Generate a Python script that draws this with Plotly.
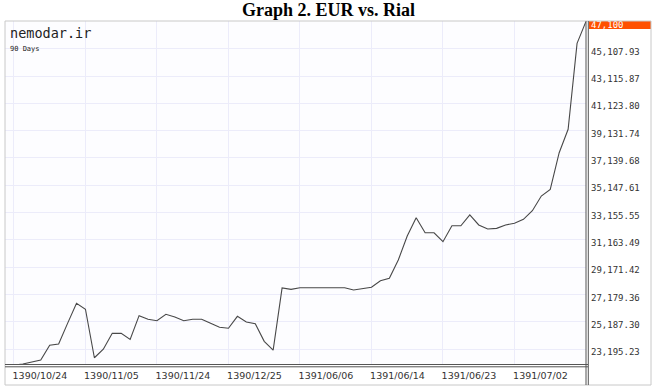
import plotly.graph_objects as go

# ---- data ----
rate_values = [22031, 22031, 22100, 22270, 22400, 23470, 23560, 25070, 26530, 26100,
               22560, 23180, 24340, 24340, 23900, 25630, 25370, 25260, 25730, 25530,
               25260, 25370, 25370, 25070, 24780, 24710, 25580, 25170, 25040, 23760,
               23120, 27650, 27550, 27670, 27670, 27670, 27670, 27670, 27670, 27500,
               27580, 27700, 28180, 28360, 29690, 31440, 32780, 31680, 31680, 31030,
               32190, 32190, 32980, 32250, 31950, 32000, 32250, 32370, 32660, 33290,
               34360, 34840, 37520, 39230, 45500, 47100]
day_index = list(range(len(rate_values)))

x_tick_idx = [1, 9, 17, 25, 33, 41, 49, 57]
x_tick_labels = ["1390/10/24", "1390/11/05", "1390/11/24", "1390/12/25",
                 "1391/06/06", "1391/06/14", "1391/06/23", "1391/07/02"]

y_tick_vals = [23195.23, 25187.30, 27179.36, 29171.42, 31163.49, 33155.55,
               35147.61, 37139.68, 39131.74, 41123.80, 43115.87, 45107.93, 47100]
y_tick_labels = ["23,195.23", "25,187.30", "27,179.36", "29,171.42", "31,163.49",
                 "33,155.55", "35,147.61", "37,139.68", "39,131.74", "41,123.80",
                 "43,115.87", "45,107.93", "47,100"]
y_min, y_max = 22031, 47100

W, H = 657, 388
def px(x):
    return x / W
def py(y):
    return 1 - y / H

ticktext_y = [f'<span style="color:white">{t}</span>' if i == len(y_tick_labels) - 1 else t
              for i, t in enumerate(y_tick_labels)]

fig = go.Figure()
fig.add_trace(go.Scatter(x=day_index, y=rate_values, mode="lines",
                         line=dict(color="#484848", width=1.1),
                         hoverinfo="skip", showlegend=False))

grid_c = "#ECECFA"
fig.update_layout(
    template="none",
    width=W, height=H,
    margin=dict(l=0, r=0, t=0, b=0, pad=0, autoexpand=False),
    paper_bgcolor="white",
    plot_bgcolor="#FDFDFF",
    title=dict(text="<b>Graph 2. EUR vs. Rial</b>", x=0.5, xanchor="center",
               y=py(10), yanchor="middle", yref="container",
               font=dict(family="Liberation Serif", size=18, color="black")),
    xaxis=dict(domain=[px(5), px(586)], range=[0, 65], tickmode="array",
               tickvals=x_tick_idx, ticktext=x_tick_labels, showgrid=True,
               gridcolor=grid_c, gridwidth=1, zeroline=False, showline=False,
               automargin=False,
               ticks="", ticklabelshift=26, ticklabelstandoff=3,
               tickfont=dict(family="DejaVu Sans", size=9.5, color="#333")),
    yaxis=dict(domain=[py(365), py(21.4)], range=[y_min, y_max], side="right",
               tickmode="array", tickvals=y_tick_vals, ticktext=ticktext_y,
               showgrid=True, gridcolor=grid_c, gridwidth=1, zeroline=False,
               automargin=False,
               showline=False, ticks="", ticklabelstandoff=4, ticklabelshift=3,
               tickfont=dict(family="DejaVu Sans Mono", size=9, color="#333")),
    shapes=[
        # outer frame
        dict(type="rect", xref="paper", yref="paper", x0=px(5), x1=px(651),
             y0=py(385), y1=py(21), line=dict(color="#C8C8C8", width=1),
             fillcolor="rgba(0,0,0,0)", layer="above"),
        # orange price tag box
        dict(type="rect", xref="paper", yref="paper", x0=px(589), x1=px(651),
             y0=py(29), y1=py(21), line=dict(width=0), fillcolor="#FF5000",
             layer="below"),
        # double line right
        dict(type="line", xref="paper", yref="paper", x0=px(586), x1=px(586),
             y0=py(385), y1=py(21), line=dict(color="#555", width=1), layer="above"),
        dict(type="line", xref="paper", yref="paper", x0=px(588.3), x1=px(588.3),
             y0=py(385), y1=py(21), line=dict(color="#555", width=1), layer="above"),
        # double line bottom
        dict(type="line", xref="paper", yref="paper", x0=px(5), x1=px(588),
             y0=py(364.5), y1=py(364.5), line=dict(color="#555", width=1), layer="above"),
        dict(type="line", xref="paper", yref="paper", x0=px(5), x1=px(588),
             y0=py(366.8), y1=py(366.8), line=dict(color="#555", width=1), layer="above"),
    ],
    annotations=[
        dict(text="nemodar.ir", xref="paper", yref="paper", x=px(8), y=py(33),
             xanchor="left", yanchor="middle", showarrow=False,
             font=dict(family="DejaVu Sans Mono", size=13.5, color="#222")),
        dict(text="90 Days", xref="paper", yref="paper", x=px(8), y=py(49),
             xanchor="left", yanchor="middle", showarrow=False,
             font=dict(family="DejaVu Sans Mono", size=7, color="#222")),
    ],
)

fig.write_html("out.html", config={"displayModeBar": False},
               post_script="document.body.style.margin='0';document.body.style.padding='0';")
